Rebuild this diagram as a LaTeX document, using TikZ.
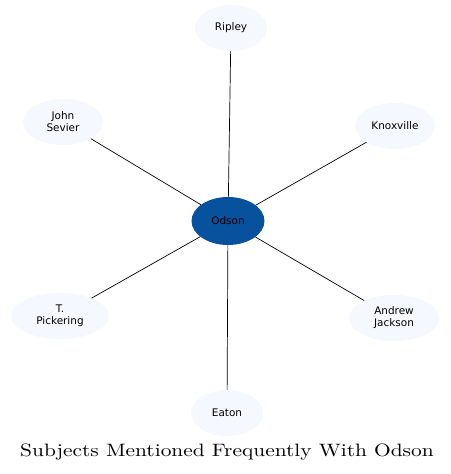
\documentclass[tikz,border=0pt]{standalone}
\usepackage{fontspec}
\newfontfamily\nodefont{DejaVu Sans}
\usetikzlibrary{shapes.geometric, positioning}
\definecolor{leafblue}{HTML}{F5F8FE}
\definecolor{hubblue}{HTML}{08519C}
\tikzstyle{subject} = [ellipse, minimum width=72bp, minimum height=46bp, inner sep=0pt, align=center, fill=leafblue, font=\nodefont\fontsize{10.5}{12}\selectfont]
\tikzstyle{hub} = [ellipse, minimum width=73bp, minimum height=48bp, inner sep=0pt, align=center, fill=hubblue, font=\nodefont\fontsize{10.5}{12}\selectfont]
\tikzstyle{link} = [line width=0.7pt, black]

\begin{document}
\begin{tikzpicture}[x=1bp, y=1bp]
\useasboundingbox (0,0) rectangle (451,474);
% hub in the middle, subjects round it
\node (odson) [hub] at (228,253) {Odson};

\node (ripley) [subject] at (231,446) {Ripley};
\node (sevier) [subject, minimum width=80bp] at (63,352) {John\\Sevier};
\node (knox) [subject, minimum width=80bp] at (395,348) {Knoxville};
\node (pickering) [subject, minimum width=98bp] at (60,158) {T.\\Pickering};
\node (jackson) [subject, minimum width=90bp] at (394,156) {Andrew\\Jackson};
\node (eaton) [subject] at (227,61) {Eaton};

\node (title) at (227,22) {\scalebox{2.15}[1.8]{\fontsize{10}{12}\selectfont Subjects Mentioned Frequently With Odson}};

\draw [link] (odson) -- (ripley);
\draw [link] (odson) -- (sevier);
\draw [link] (odson) -- (knox);
\draw [link] (odson) -- (pickering);
\draw [link] (odson) -- (jackson);
\draw [link] (odson) -- (eaton);
\end{tikzpicture}
\end{document}
